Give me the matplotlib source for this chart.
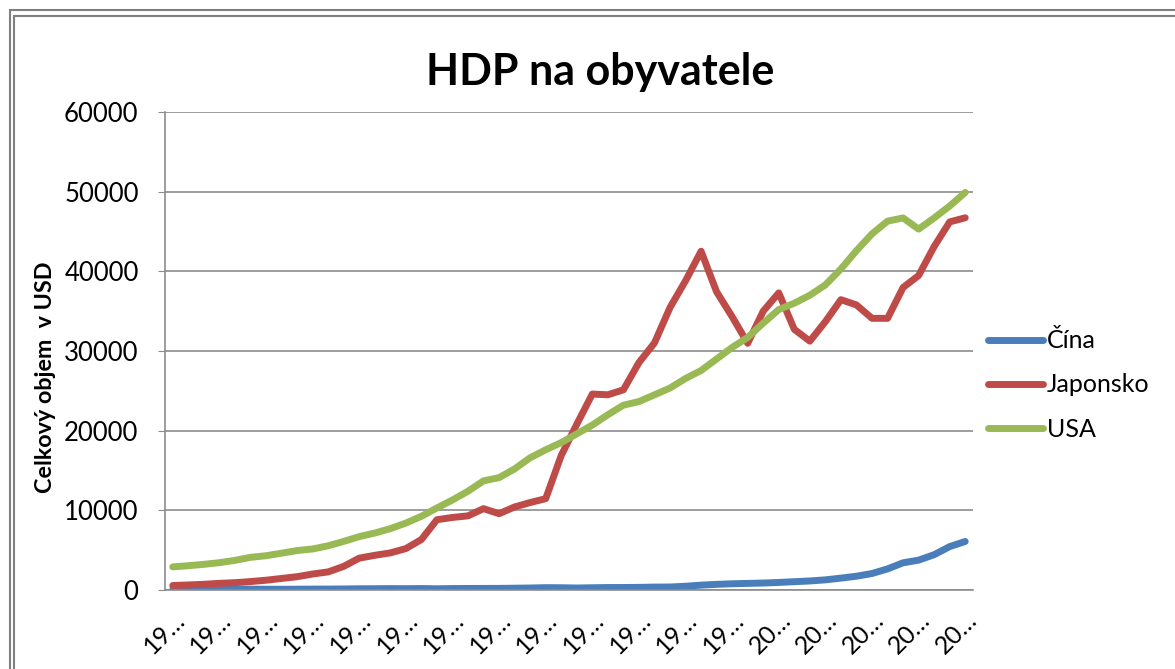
import matplotlib.pyplot as plt
import matplotlib.patches as patches

# HDP na obyvatele, 1961-2012
years = list(range(1961, 2013))

cina = [76, 70, 74, 85, 98, 104, 97, 91, 100, 112,
        118, 132, 157, 160, 178, 165, 185, 155, 183, 193,
        197, 203, 225, 250, 294, 282, 251, 283, 310, 314,
        330, 366, 377, 473, 610, 709, 782, 829, 873, 949,
        1042, 1135, 1274, 1490, 1731, 2069, 2651, 3414, 3749, 4433,
        5447, 6093]

japonsko = [563, 633, 717, 836, 919, 1058, 1228, 1450, 1669, 2004,
            2272, 2967, 3997, 4354, 4659, 5197, 6335, 8821, 9105, 9308,
            10212, 9578, 10425, 10978, 11465, 16883, 20800, 24593, 24506, 25124,
            28541, 31013, 35451, 38815, 42522, 37423, 34304, 30969, 35004, 37292,
            32716, 31236, 33691, 36442, 35781, 34102, 34095, 37972, 39473, 43118,
            46204, 46720]

usa = [2900, 3050, 3220, 3430, 3720, 4100, 4300, 4620, 4950, 5150,
       5550, 6100, 6700, 7150, 7700, 8400, 9250, 10300, 11300, 12400,
       13700, 14100, 15200, 16600, 17600, 18500, 19600, 20700, 22000, 23200,
       23650, 24500, 25350, 26550, 27550, 29000, 30450, 31700, 33500, 35200,
       36000, 37000, 38300, 40300, 42600, 44700, 46300, 46700, 45300, 46700,
       48200, 49900]

series = [("Čína", cina, "#4A7EBB"),
          ("Japonsko", japonsko, "#BE4B48"),
          ("USA", usa, "#98B954")]

plt.rcParams['font.family'] = ['Lato', 'DejaVu Sans']

fig = plt.figure(figsize=(11.75, 6.69), dpi=100)
ax = fig.add_axes([165 / 1175, 1 - 590 / 669, (973 - 165) / 1175, (590 - 112) / 669])

x = list(range(len(years)))
for name, vals, col in series:
    ax.plot(x, vals, color=col, lw=5, label=name, solid_capstyle='round',
            solid_joinstyle='round')

ax.set_xlim(-0.5, len(years) - 0.5)
ax.set_ylim(0, 60000)
ax.set_yticks(range(0, 60001, 10000))
ax.yaxis.grid(True, color='#8c8c8c', lw=1.2)
ax.set_axisbelow(True)

tick_pos = x[::3]
tick_lab = [str(years[i])[:2] + '…' for i in tick_pos]
ax.set_xticks(tick_pos)
ax.set_xticklabels(tick_lab, rotation=45, ha='right', va='top',
                   rotation_mode='anchor', fontsize=18)
ax.tick_params(axis='x', length=0, pad=13)
ax.tick_params(axis='y', length=5, color='#8c8c8c', labelsize=18.5, pad=14)

for s in ['top', 'right']:
    ax.spines[s].set_visible(False)
for s in ['left', 'bottom']:
    ax.spines[s].set_color('#8c8c8c')
    ax.spines[s].set_linewidth(1.2)

ax.set_ylabel('Celkový objem  v USD', fontsize=16.8, fontweight='bold')
ax.yaxis.set_label_coords((56 - 165) / 808, (590 - 377) / 478)
fig.text(600 / 1175, 1 - 72 / 669, 'HDP na obyvatele', ha='center', va='center',
         fontsize=31, fontweight='bold')

fig.legend(loc='center left', bbox_to_anchor=(988 / 1175, 1 - 385 / 669),
           frameon=False, fontsize=18, handlelength=2.2, handletextpad=0.15,
           labelspacing=0.85, borderaxespad=0, borderpad=0)

# dvojity ramecek kolem grafu
fig.patches.append(patches.Rectangle((10 / 1175, -0.1), 1.2, 1 - 10 / 669 + 0.1,
                                     transform=fig.transFigure, fill=False,
                                     ec='#7f7f7f', lw=1.5))
fig.patches.append(patches.Rectangle((14 / 1175, -0.1), 1.2, 1 - 16 / 669 + 0.1,
                                     transform=fig.transFigure, fill=False,
                                     ec='#7f7f7f', lw=1.5))

fig.savefig('out.png', dpi=100)
